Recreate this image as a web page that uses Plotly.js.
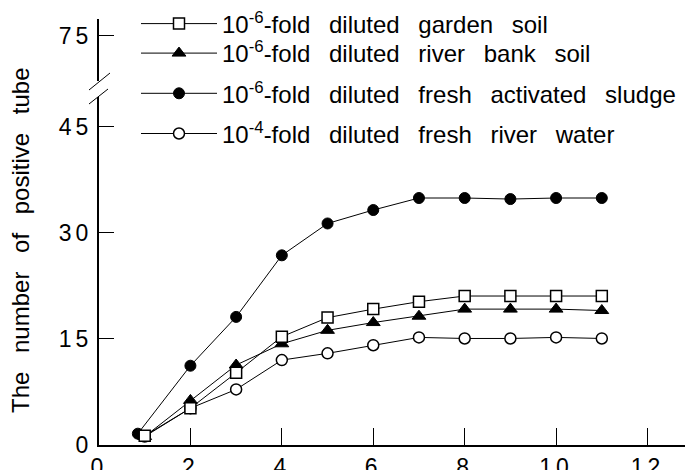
<!DOCTYPE html>
<html>
<head>
<meta charset="utf-8">
<script src="https://cdn.plot.ly/plotly-3.0.1.min.js"></script>
<style>
  html, body { margin: 0; padding: 0; background: #fff; }
  #chart { width: 685px; height: 470px; }
  .xtick text, .ytick text, .y2tick text { letter-spacing: 4px; }
</style>
</head>
<body>
<div id="chart"></div>
<script>
// ---- data ----
const xGarden = [1, 2, 3, 4, 5, 6, 7, 8, 9, 10, 11];
const yGarden = [1.3, 5.2, 10.2, 15.3, 18.0, 19.2, 20.25, 21.05, 21.05, 21.05, 21.05];

const xBank = [1, 2, 3, 4, 5, 6, 7, 8, 9, 10, 11];
const yBank = [1.2, 6.3, 11.3, 14.3, 16.2, 17.3, 18.2, 19.2, 19.2, 19.2, 19.0];

const xSludge = [0.85, 2, 3, 4, 5, 6, 7, 8, 9, 10, 11];
const ySludge = [1.6, 11.2, 18.1, 26.8, 31.3, 33.2, 34.9, 34.9, 34.75, 34.9, 34.9];

const xWater = [1, 2, 3, 4, 5, 6, 7, 8, 9, 10, 11];
const yWater = [1.2, 5.2, 7.85, 12.0, 12.95, 14.1, 15.2, 15.05, 15.05, 15.2, 15.05];

const nameGarden = '10<sup>-6</sup>-fold\u2002 diluted\u2002 garden\u2002 soil';
const nameBank   = '10<sup>-6</sup>-fold\u2002 diluted\u2002 river\u2002 bank\u2002 soil';
const nameSludge = '10<sup>-6</sup>-fold\u2002 diluted\u2002 fresh\u2002 activated\u2002 sludge';
const nameWater  = '10<sup>-4</sup>-fold\u2002 diluted\u2002 fresh\u2002 river\u2002 water';

const xTicks = [0, 2, 4, 6, 8, 10, 12];
const yTicksLow = [0, 15, 30, 45];
const yTicksHigh = [75];
const yTitle = 'The\u2002 number\u2002 of\u2002 positive\u2002 tube';

// ---- traces ----
const lineStyle = {color: '#000', width: 1};
const traces = [
  {x: xWater, y: yWater, name: nameWater, type: 'scatter', mode: 'lines+markers',
   line: lineStyle, legend: 'legend2', legendgroup: 'water', legendrank: 3,
   marker: {symbol: 'circle', size: 11, color: '#fff', line: {color: '#000', width: 1.5}}},
  {x: xSludge, y: ySludge, name: nameSludge, type: 'scatter', mode: 'lines+markers',
   line: lineStyle, legend: 'legend2', legendgroup: 'sludge', legendrank: 2,
   marker: {symbol: 'circle', size: 11, color: '#000', line: {color: '#000', width: 1}}},
  {x: xBank, y: yBank, name: nameBank, type: 'scatter', mode: 'lines+markers',
   line: lineStyle, legend: 'legend2', legendgroup: 'bank', legendrank: 1,
   marker: {symbol: 'triangle-up', size: 12, color: '#000', line: {color: '#000', width: 1}}},
  {x: xGarden, y: yGarden, name: nameGarden, type: 'scatter', mode: 'lines+markers',
   line: lineStyle, legend: 'legend',
   marker: {symbol: 'square', size: 11, color: '#fff', line: {color: '#000', width: 1.5}}},
  // empty trace so the upper (broken) part of the y axis is drawn
  {x: [], y: [], xaxis: 'x', yaxis: 'y2', type: 'scatter', mode: 'markers',
   showlegend: false, hoverinfo: 'skip'}
];

// ---- layout ----
const W = 685, H = 470, L = 99, R = 0, T = 19, B = 25;
const plotH = H - T - B;               // 426
const pxToPaperY = py => (H - B - py) / plotH;
const pxToPaperX = px => (px - L) / (W - L - R);

const tickFont = {family: 'Liberation Sans, Arial, sans-serif', size: 23, color: '#000'};
const legendFont = {family: 'Liberation Sans, Arial, sans-serif', size: 24, color: '#000'};

const axisCommon = {
  ticks: 'inside', tickwidth: 1, tickcolor: '#000',
  showline: true, linewidth: 2, linecolor: '#000',
  showgrid: false, zeroline: false, tickfont: tickFont
};

const layout = {
  width: W, height: H,
  margin: {l: L, r: R, t: T, b: B, pad: 0},
  paper_bgcolor: '#fff', plot_bgcolor: '#fff',
  showlegend: true,
  xaxis: Object.assign({}, axisCommon, {
    range: [0, 12.82], tickvals: xTicks, ticktext: xTicks.map(String),
    ticklen: 17, anchor: 'y'
  }),
  yaxis: Object.assign({}, axisCommon, {
    domain: [0, pxToPaperY(97)], range: [0, 49.17],
    tickvals: yTicksLow, ticktext: yTicksLow.map(String),
    ticklen: 15, anchor: 'x'
  }),
  yaxis2: Object.assign({}, axisCommon, {
    domain: [pxToPaperY(81), 1], range: [68.64, 77.4],
    tickvals: yTicksHigh, ticktext: yTicksHigh.map(String),
    ticklen: 15, anchor: 'x'
  }),
  legend: {
    x: pxToPaperX(136), xanchor: 'left',
    y: pxToPaperY(1.5), yanchor: 'top',
    itemwidth: 76, bgcolor: 'rgba(0,0,0,0)', borderwidth: 0,
    font: legendFont
  },
  legend2: {
    x: pxToPaperX(136), xanchor: 'left',
    y: pxToPaperY(31), yanchor: 'top',
    traceorder: 'grouped', tracegroupgap: 6,
    itemwidth: 76, bgcolor: 'rgba(0,0,0,0)', borderwidth: 0,
    font: legendFont
  },
  annotations: [{
    text: yTitle, textangle: -90, showarrow: false,
    xref: 'paper', yref: 'paper',
    x: pxToPaperX(20), y: pxToPaperY(240), xanchor: 'center', yanchor: 'middle',
    font: {family: 'Liberation Sans, Arial, sans-serif', size: 24, color: '#000'}
  }],
  shapes: [
    {type: 'line', xref: 'paper', yref: 'paper',
     x0: pxToPaperX(89), y0: pxToPaperY(90), x1: pxToPaperX(110), y1: pxToPaperY(73),
     line: {color: '#000', width: 1}},
    {type: 'line', xref: 'paper', yref: 'paper',
     x0: pxToPaperX(89), y0: pxToPaperY(104), x1: pxToPaperX(108), y1: pxToPaperY(89),
     line: {color: '#000', width: 1}}
  ]
};

Plotly.newPlot('chart', traces, layout, {displayModeBar: false, staticPlot: true});
</script>
</body>
</html>
